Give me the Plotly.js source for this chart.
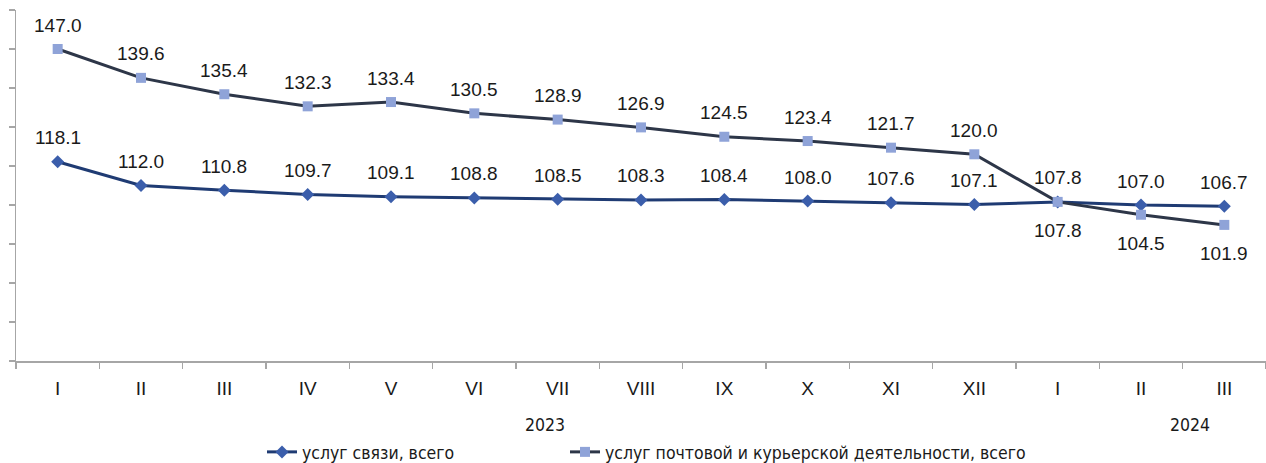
<!DOCTYPE html>
<html>
<head>
<meta charset="utf-8">
<script src="https://cdn.plot.ly/plotly-3.0.1.min.js"></script>
<style>html,body{margin:0;padding:0;background:#fff;}#chart{width:1266px;height:463px;}</style>
</head>
<body>
<div id="chart"></div>
<script>
const months = ["I","II","III","IV","V","VI","VII","VIII","IX","X","XI","XII","I","II","III"];
const years = ["2023","2024"];
const seriesNames = ["услуг связи, всего","услуг почтовой и курьерской деятельности, всего"];
const svyaz = [118.1,112.0,110.8,109.7,109.1,108.8,108.5,108.3,108.4,108.0,107.6,107.1,107.8,107.0,106.7];
const pochta = [147.0,139.6,135.4,132.3,133.4,130.5,128.9,126.9,124.5,123.4,121.7,120.0,107.8,104.5,101.9];
const pochtaBelow = [false,false,false,false,false,false,false,false,false,false,false,false,true,true,true];

const xs = months.map((m,i)=>i);
const labelFont = {family:"Liberation Sans, Arial, sans-serif", size:19, color:"#1a1a1a"};
const narrow = "Liberation Sans Narrow, DejaVu Sans Condensed, sans-serif";

const annotations = [];
svyaz.forEach((v,i)=>annotations.push({x:i,y:v,text:v.toFixed(1),showarrow:false,yshift:24,font:labelFont}));
pochta.forEach((v,i)=>annotations.push({x:i,y:v,text:v.toFixed(1),showarrow:false,yshift:pochtaBelow[i]?-29:24,font:labelFont}));
annotations.push({xref:"paper",yref:"paper",x:(545-16)/1250,y:-(425-361)/351,yanchor:"middle",text:years[0],showarrow:false,
  font:{family:narrow,size:17.5,color:"#1a1a1a"}});
annotations.push({xref:"paper",yref:"paper",x:(1212-16)/1250,y:-(425-361)/351,yanchor:"middle",text:years[1],showarrow:false,
  font:{family:narrow,size:17.5,color:"#1a1a1a"}});

const traces = [
  {x:xs,y:svyaz,name:seriesNames[0],type:"scatter",mode:"lines+markers",legend:"legend",
   line:{color:"#1F3B73",width:3},marker:{symbol:"diamond",size:10,color:"#3B5EAB"}},
  {x:xs,y:pochta,name:seriesNames[1],type:"scatter",mode:"lines+markers",legend:"legend2",
   line:{color:"#2D3648",width:3},marker:{symbol:"square",size:10,color:"#8FA3D8"}}
];

const legFont = {family:narrow,size:17.5,color:"#1a1a1a"};
const layout = {
  width:1266,height:463,
  margin:{l:16,r:0,t:10,b:102,autoexpand:false},
  paper_bgcolor:"#fff",plot_bgcolor:"#fff",
  showlegend:true,
  legend:{orientation:"h",x:(262-16)/1250,xanchor:"left",y:-(452-361)/351,yanchor:"middle",font:legFont,bgcolor:"rgba(0,0,0,0)"},
  legend2:{orientation:"h",x:(565-16)/1250,xanchor:"left",y:-(452-361)/351,yanchor:"middle",font:legFont,bgcolor:"rgba(0,0,0,0)"},
  xaxis:{range:[-0.5,14.5],tickmode:"array",tickvals:xs,ticktext:months,ticks:"",
    showgrid:false,zeroline:false,showline:true,linecolor:"#A6A6A6",linewidth:1.5,
    ticklabelstandoff:10,
    tickfont:{family:"Liberation Sans, Arial, sans-serif",size:19,color:"#1a1a1a"},
    minor:{ticks:"outside",ticklen:6,tick0:-0.5,dtick:1,tickcolor:"#A6A6A6",tickwidth:1.5,showgrid:false}},
  yaxis:{range:[67,157],tick0:67,dtick:10,showticklabels:false,ticks:"outside",ticklen:6,
    tickcolor:"#A6A6A6",tickwidth:1.5,showgrid:false,zeroline:false,showline:true,linecolor:"#A6A6A6",linewidth:1.5},
  annotations:annotations
};
Plotly.newPlot("chart",traces,layout,{displayModeBar:false,staticPlot:true});
</script>
</body>
</html>
